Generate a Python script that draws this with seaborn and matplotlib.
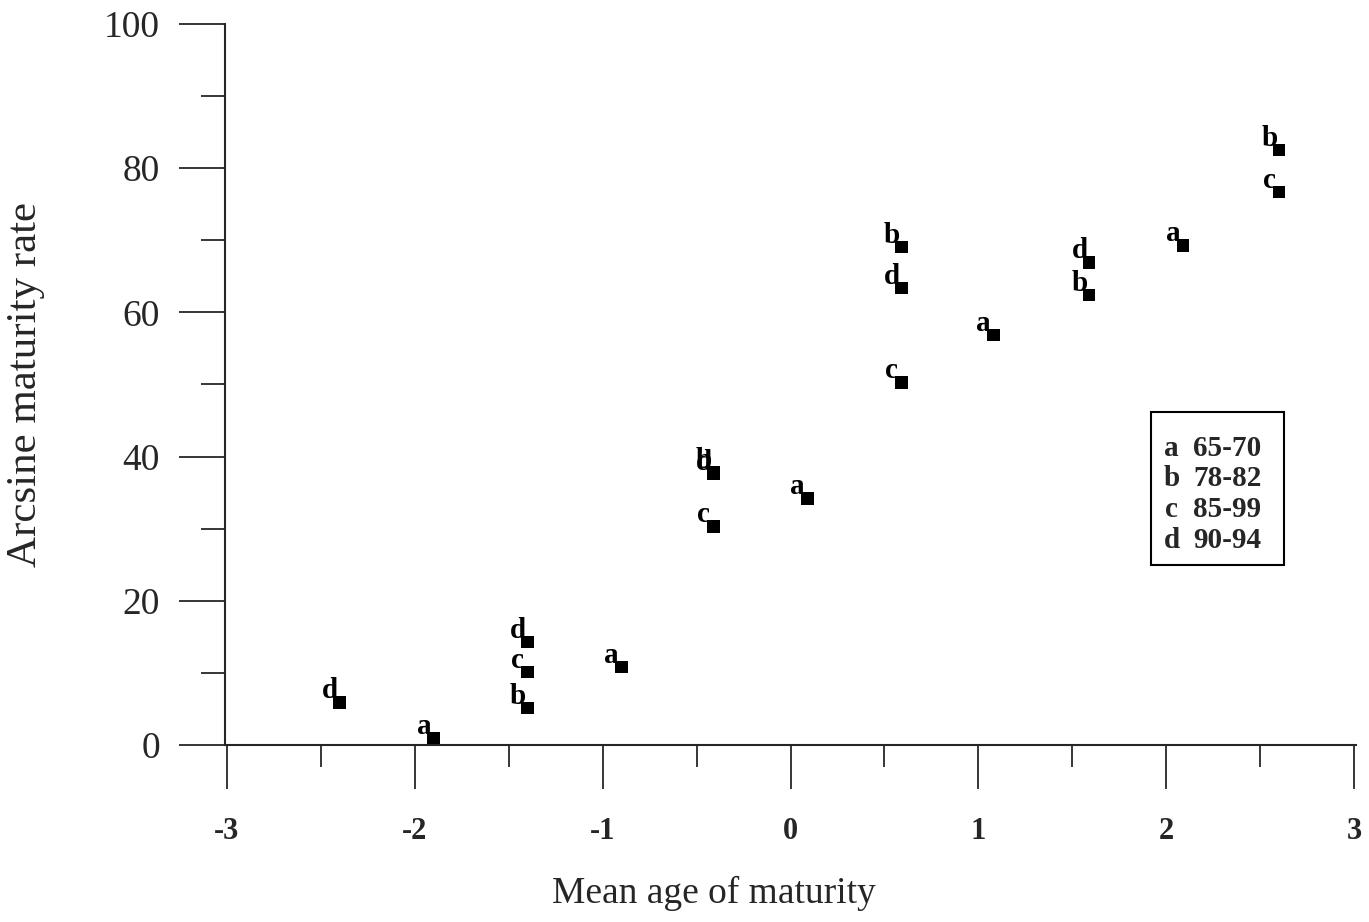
import matplotlib
matplotlib.use("Agg")
import matplotlib.pyplot as plt
from matplotlib.ticker import MultipleLocator
from matplotlib.patches import Rectangle
import seaborn as sns
import pandas as pd

# ---- data ----
a_x = [-1.90, -0.90, 0.09, 1.08, 2.09]
a_y = [1.0, 10.8, 34.2, 56.9, 69.3]
b_x = [-1.40, -0.41, 0.59, 1.59, 2.60]
b_y = [5.1, 37.8, 69.1, 62.4, 82.5]
c_x = [-1.40, -0.41, 0.59, 2.60]
c_y = [10.1, 30.3, 50.3, 76.7]
d_x = [-2.40, -1.40, -0.41, 0.59, 1.59]
d_y = [5.9, 14.3, 37.6, 63.4, 66.9]

series_names = ["a", "b", "c", "d"]
series_labels = ["65-70", "78-82", "85-99", "90-94"]
xs = [a_x, b_x, c_x, d_x]
ys = [a_y, b_y, c_y, d_y]

rows = []
for name, sx, sy in zip(series_names, xs, ys):
    for x, y in zip(sx, sy):
        rows.append({"series": name, "x": x, "y": y})
df = pd.DataFrame(rows)

sns.set_style("ticks")
plt.rcParams["font.family"] = ["Liberation Serif", "DejaVu Serif"]
plt.rcParams["axes.unicode_minus"] = False

fig = plt.figure(figsize=(13.69, 9.22), dpi=100)
ax = fig.add_axes([0.1644, 0.192, 0.8261, 0.782])

sns.scatterplot(data=df, x="x", y="y", hue="series",
                palette={n: "black" for n in series_names},
                marker="s", s=80, edgecolor="black", linewidth=0,
                legend=False, ax=ax)

for _, r in df.iterrows():
    ax.annotate(r["series"], (r["x"], r["y"]), xytext=(-7, 3),
                textcoords="offset points", ha="center", va="baseline",
                fontsize=21, fontweight="bold", color="black")

ax.set_xlim(-3.01, 3.01)
ax.set_ylim(0, 100)
ax.xaxis.set_major_locator(MultipleLocator(1))
ax.xaxis.set_minor_locator(MultipleLocator(0.5))
ax.yaxis.set_major_locator(MultipleLocator(20))
ax.yaxis.set_minor_locator(MultipleLocator(10))

for side in ["top", "right"]:
    ax.spines[side].set_visible(False)
for side in ["left", "bottom"]:
    ax.spines[side].set_linewidth(1.5)

ax.tick_params(axis="x", which="major", direction="out", length=32, width=1.3,
               pad=20, labelsize=22)
ax.tick_params(axis="x", which="minor", direction="out", length=16, width=1.3)
ax.tick_params(axis="y", which="major", direction="out", length=33, width=1.3,
               pad=14, labelsize=27)
ax.tick_params(axis="y", which="minor", direction="out", length=17, width=1.3)
for lab in ax.get_xticklabels():
    lab.set_fontweight("bold")

ax.set_xlabel("Mean age of maturity", fontsize=27)
ax.set_ylabel("Arcsine maturity rate", fontsize=31)
ax.xaxis.set_label_coords(0.432, -0.182)
ax.yaxis.set_label_coords(-0.159, 0.50)

# legend box
ax.add_patch(Rectangle((0.819, 0.250), 0.117, 0.212, transform=ax.transAxes,
                       fill=False, edgecolor="black", linewidth=1.5))
line_y = [0.411, 0.370, 0.327, 0.284]
for n, lab, ly in zip(series_names, series_labels, line_y):
    ax.text(0.837, ly, n, transform=ax.transAxes, ha="center", va="center",
            fontsize=21, fontweight="bold")
    ax.text(0.856, ly, lab, transform=ax.transAxes, ha="left", va="center",
            fontsize=21, fontweight="bold")

fig.savefig("out.png", dpi=100)
